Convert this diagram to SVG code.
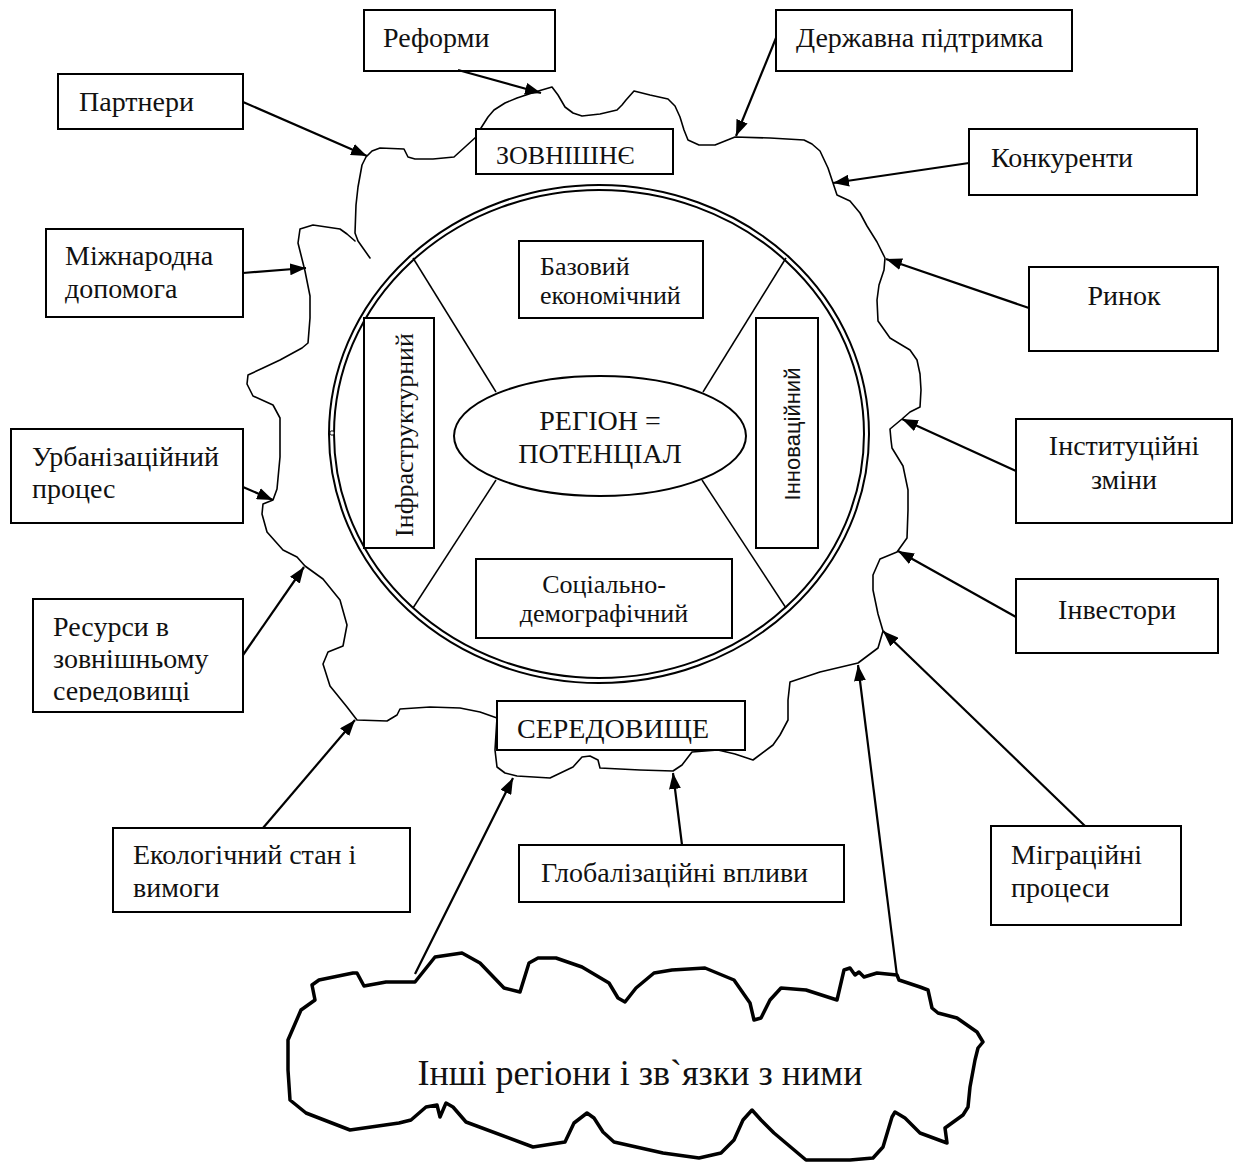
<svg xmlns="http://www.w3.org/2000/svg" width="1237" height="1164" viewBox="0 0 1237 1164">
<style>
.box{fill:#fff;stroke:#000;stroke-width:2}
.t{font-family:"Liberation Serif","Times New Roman",serif;font-size:28px;fill:#111}
.ti{font-family:"Liberation Serif","Times New Roman",serif;font-size:26px;fill:#111}
.ts{font-family:"Liberation Sans",Arial,sans-serif;font-size:22px;fill:#111}
.blob{fill:none;stroke:#000;stroke-width:1.6;stroke-linejoin:round;stroke-linecap:round}
.cloud{fill:#fff;stroke:#000;stroke-width:3.5;stroke-linejoin:round}
.ring{fill:none;stroke:#000;stroke-width:2}
.spoke{stroke:#000;stroke-width:1.5}
.conn line{stroke:#000;stroke-width:2.2;marker-end:url(#ah)}
</style>
<defs>
<marker id="ah" viewBox="0 0 16 12" refX="16" refY="6" markerWidth="16" markerHeight="12" markerUnits="userSpaceOnUse" orient="auto">
<path d="M0,0 L16,6 L0,12 z" fill="#000"/>
</marker>
<clipPath id="clipRes"><rect x="33" y="599" width="210" height="103"/></clipPath>
</defs>
<rect width="1237" height="1164" fill="#fff"/>

<g id="environment-outline">
<polyline class="blob" points="370,258 358,241 355,233 356,205 358,187 362,165 366,157 372,151 380,148 404,149 408,157 415,159 433,159 454,157 465,147 476,137 481,128 488,117 494,110 505,103 517,98 535,92 552,87 558,95 565,107 573,113 582,116 600,114 617,110 622,105 626,100 634,91 650,95 668,99 675,106 680,117 684,130 688,140 699,145 715,145 735,137 770,138 804,140 812,144 820,151 828,168 833,183 837,195 850,201 860,213 867,226 877,242 885,258 884,270 879,285 877,300 878,321 890,338 910,350 917,360 920,374 921,390 920,407 910,412 902,419 890,429 891,440 892,448 903,466 908,490 908,510 907,538 897,552 880,559 873,575 873,590 878,614 883,631 878,648 858,663 820,672 790,682 788,700 788,720 780,735 773,745 757,757 753,760 735,754 718,750 692,752 682,765 673,771 640,770 600,768 598,760 590,756 582,757 573,767 550,778 517,776 505,773 497,767 495,750 497,718 480,712 460,708 430,707 400,709 397,715 387,721 357,720 347,707 330,686 323,664 328,652 343,646 347,625 340,600 323,579 305,566 297,557 283,550 267,532 262,514 263,504 273,500 277,489 280,457 280,418 273,405 253,396 247,384 248,375 263,368 280,360 302,348 308,343 310,318 310,296 305,271 298,243 300,229 313,225 340,229 347,234 355,241"/>
</g>

<g id="region-circle">
<ellipse class="ring" cx="599" cy="434" rx="270" ry="249"/>
<ellipse class="ring" cx="599" cy="434" rx="265" ry="244"/>
<circle cx="332" cy="433" r="2.2" fill="#fff" stroke="#000" stroke-width="1"/>
<line class="spoke" x1="413" y1="258" x2="496" y2="392"/>
<line class="spoke" x1="786" y1="258" x2="703" y2="392"/>
<line class="spoke" x1="413" y1="608" x2="496" y2="480"/>
<line class="spoke" x1="786" y1="608" x2="702" y2="480"/>
</g>

<g id="node-center">
<ellipse cx="600" cy="436" rx="146" ry="60" fill="#fff" stroke="#000" stroke-width="2"/>
<text class="t" x="600" y="430" text-anchor="middle">РЕГІОН =</text>
<text class="t" x="600" y="463" text-anchor="middle">ПОТЕНЦІАЛ</text>
</g>

<g id="node-base">
<rect class="box" x="519" y="241" width="184" height="77"/>
<text class="ti" x="540" y="275">Базовий</text>
<text class="ti" x="540" y="304">економічний</text>
</g>
<g id="node-infra">
<rect class="box" x="364" y="318" width="70" height="230"/>
<text class="ti" transform="translate(413,435) rotate(-90)" text-anchor="middle">Інфраструктурний</text>
</g>
<g id="node-innov">
<rect class="box" x="756" y="318" width="62" height="230"/>
<text class="ts" transform="translate(800,434) rotate(-90)" text-anchor="middle">Інноваційний</text>
</g>
<g id="node-social">
<rect class="box" x="476" y="559" width="256" height="79"/>
<text class="ti" x="604" y="593" text-anchor="middle">Соціально-</text>
<text class="ti" x="604" y="622" text-anchor="middle">демографічний</text>
</g>

<g id="label-external">
<rect class="box" x="476" y="129" width="197" height="45"/>
<text class="ti" x="496" y="164">ЗОВНІШНЄ</text>
</g>
<g id="label-environment">
<rect class="box" x="497" y="701" width="248" height="49"/>
<text class="t" x="517" y="738">СЕРЕДОВИЩЕ</text>
</g>

<g id="node-reforms">
<rect class="box" x="364" y="10" width="191" height="61"/>
<text class="t" x="383" y="47">Реформи</text>
</g>
<g id="node-state">
<rect class="box" x="776" y="10" width="296" height="61"/>
<text class="t" x="796" y="47">Державна підтримка</text>
</g>
<g id="node-partners">
<rect class="box" x="58" y="74" width="185" height="55"/>
<text class="t" x="79" y="111">Партнери</text>
</g>
<g id="node-competitors">
<rect class="box" x="969" y="129" width="228" height="66"/>
<text class="t" x="991" y="167">Конкуренти</text>
</g>
<g id="node-intl">
<rect class="box" x="46" y="229" width="197" height="88"/>
<text class="t" x="65" y="265">Міжнародна</text>
<text class="t" x="65" y="298">допомога</text>
</g>
<g id="node-market">
<rect class="box" x="1029" y="267" width="189" height="84"/>
<text class="t" x="1124" y="305" text-anchor="middle">Ринок</text>
</g>
<g id="node-urban">
<rect class="box" x="11" y="429" width="232" height="94"/>
<text class="t" x="32" y="466">Урбанізаційний</text>
<text class="t" x="32" y="498">процес</text>
</g>
<g id="node-institutional">
<rect class="box" x="1016" y="419" width="216" height="104"/>
<text class="t" x="1124" y="455" text-anchor="middle">Інституційні</text>
<text class="t" x="1124" y="489" text-anchor="middle">зміни</text>
</g>
<g id="node-resources">
<rect class="box" x="33" y="599" width="210" height="113"/>
<g clip-path="url(#clipRes)">
<text class="t" x="53" y="636">Ресурси в</text>
<text class="t" x="53" y="668">зовнішньому</text>
<text class="t" x="53" y="700">середовищі</text>
</g>
</g>
<g id="node-investors">
<rect class="box" x="1016" y="579" width="202" height="74"/>
<text class="t" x="1117" y="619" text-anchor="middle">Інвестори</text>
</g>
<g id="node-ecology">
<rect class="box" x="113" y="828" width="297" height="84"/>
<text class="t" x="133" y="864">Екологічний стан і</text>
<text class="t" x="133" y="897">вимоги</text>
</g>
<g id="node-global">
<rect class="box" x="519" y="845" width="325" height="57"/>
<text class="t" x="541" y="882">Глобалізаційні впливи</text>
</g>
<g id="node-migration">
<rect class="box" x="991" y="826" width="190" height="99"/>
<text class="t" x="1011" y="864">Міграційні</text>
<text class="t" x="1011" y="897">процеси</text>
</g>

<g id="connectors" class="conn">
<line x1="458" y1="70" x2="541" y2="93"/>
<line x1="776" y1="38" x2="736" y2="136"/>
<line x1="243" y1="102" x2="367" y2="156"/>
<line x1="969" y1="163" x2="833" y2="183"/>
<line x1="243" y1="273" x2="306" y2="268"/>
<line x1="1029" y1="308" x2="886" y2="259"/>
<line x1="243" y1="487" x2="273" y2="500"/>
<line x1="1016" y1="471" x2="902" y2="419"/>
<line x1="243" y1="655" x2="304" y2="567"/>
<line x1="1016" y1="617" x2="898" y2="551"/>
<line x1="263" y1="828" x2="355" y2="720"/>
<line x1="682" y1="845" x2="673" y2="773"/>
<line x1="1085" y1="826" x2="883" y2="631"/>
<line x1="415" y1="974" x2="513" y2="778"/>
<line x1="897" y1="976" x2="858" y2="665"/>
</g>

<g id="node-other-regions">
<polygon class="cloud" points="288,1040 301,1010 315,1000 312,985 319,980 353,973 357,973 364,986 386,982 415,982 435,957 462,953 480,963 504,988 520,992 529,963 538,958 556,958 582,967 609,983 618,998 625,1002 636,988 654,973 672,970 705,968 734,980 750,1003 754,1020 761,1018 770,1000 781,988 806,990 837,1000 844,970 850,968 855,975 859,972 864,977 877,973 897,975 899,980 920,987 928,990 932,1008 938,1013 957,1018 977,1032 983,1042 978,1048 975,1060 970,1087 968,1107 963,1115 945,1128 947,1143 920,1133 905,1118 895,1112 892,1117 883,1147 873,1158 850,1160 806,1160 774,1133 761,1120 752,1110 743,1120 734,1140 721,1153 699,1158 663,1153 614,1142 603,1132 594,1118 587,1113 574,1123 565,1142 533,1147 466,1122 453,1107 446,1103 440,1117 437,1105 426,1107 411,1120 399,1123 350,1130 306,1113 290,1100 288,1070"/>
<text x="640" y="1085" text-anchor="middle" style="font-family:'Liberation Serif','Times New Roman',serif;font-size:36px;fill:#111">Інші регіони і зв`язки з ними</text>
</g>
</svg>
